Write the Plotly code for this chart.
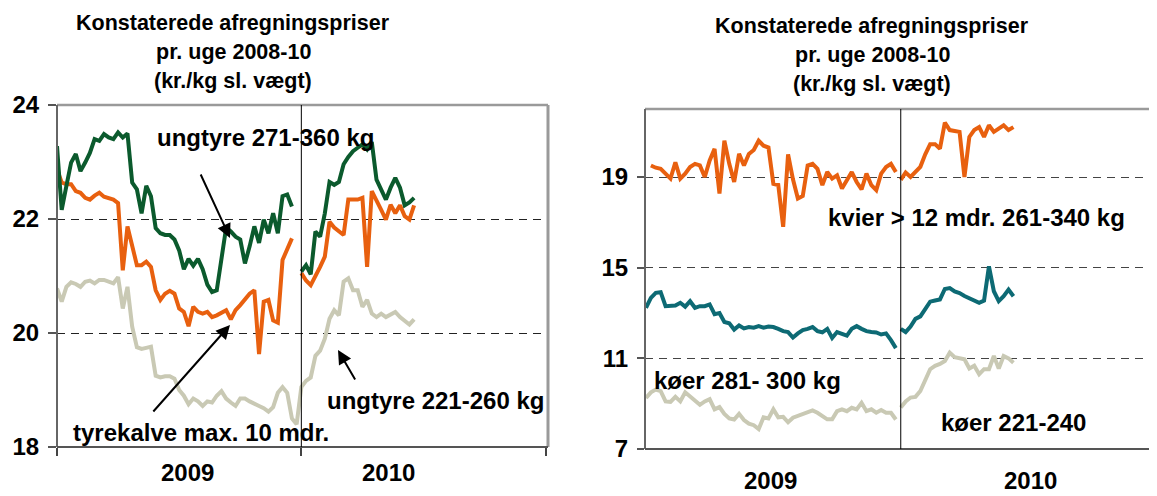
import plotly.graph_objects as go

# page is photographed with an 8px body margin, so the figure is drawn 8px smaller
OFF = 8
W, H = 1157 - OFF, 496 - OFF

# ---------------- data ----------------
weeks_2009 = list(range(0, 52))      # week index, 2009
weeks_2010 = list(range(52, 77))     # week index, 2010
year_labels = ["2009", "2010"]
title_lines = ["Konstaterede afregningspriser", "pr. uge 2008-10", "(kr./kg sl. vægt)"]

# left panel (kr./kg)
ungtyre_271_360_2009 = [23.28, 22.16, 22.58, 22.99, 23.14, 22.84, 22.99, 23.16, 23.4, 23.37,
                        23.49, 23.43, 23.4, 23.52, 23.43, 23.5, 22.64, 22.52, 22.1, 22.58,
                        22.4, 21.84, 21.75, 21.72, 21.72, 21.64, 21.45, 21.12, 21.3, 21.18,
                        21.3, 21.12, 20.85, 20.72, 20.75, 21.3, 21.85, 21.78, 21.69, 21.64,
                        21.22, 21.52, 21.87, 21.58, 21.99, 21.75, 22.1, 21.75, 22.4, 22.43, 22.22]
ungtyre_271_360_2010 = [21.08, 21.19, 21.03, 21.78, 21.69, 22.1, 22.65, 22.6, 22.65, 22.96,
                        23.09, 23.19, 23.25, 23.31, 23.22, 23.35, 22.69, 22.52, 22.34, 22.55,
                        22.72, 22.55, 22.24, 22.29, 22.37]
tyrekalve_2009 = [22.87, 22.64, 22.61, 22.61, 22.49, 22.46, 22.37, 22.34, 22.41, 22.46,
                  22.39, 22.37, 22.34, 22.28, 21.1, 21.87, 21.52, 21.19, 21.19, 21.25,
                  21.16, 20.75, 20.58, 20.69, 20.74, 20.69, 20.43, 20.37, 20.12, 20.46,
                  20.37, 20.34, 20.37, 20.28, 20.31, 20.35, 20.4, 20.24, 20.4, 20.49,
                  20.58, 20.69, 20.75, 19.63, 20.55, 20.58, 20.22, 20.18, 21.28, 21.49, 21.66]
tyrekalve_2010 = [21.05, 20.92, 20.84, 20.99, 21.16, 21.34, 21.95, 21.85, 21.78, 21.72,
                  22.34, 22.34, 22.34, 22.37, 21.16, 22.49, 22.34, 22.16, 21.99, 22.25,
                  22.1, 22.24, 22.05, 21.99, 22.24]
ungtyre_221_260_2009 = [20.78, 20.55, 20.81, 20.89, 20.86, 20.81, 20.9, 20.92, 20.87, 20.93,
                        20.93, 20.9, 20.87, 20.98, 20.43, 20.81, 20.11, 19.75, 19.72, 19.74,
                        19.76, 19.25, 19.22, 19.24, 19.24, 19.2, 19.0, 18.9, 18.75, 18.85,
                        18.8, 18.72, 18.8, 18.78, 18.9, 18.98, 18.85, 18.78, 18.72, 18.85,
                        18.85, 18.8, 18.75, 18.72, 18.68, 18.62, 18.7, 18.95, 19.05, 18.95,
                        18.5, 18.4]
ungtyre_221_260_2010 = [19.05, 19.16, 19.22, 19.6, 19.69, 19.9, 20.25, 20.4, 20.31, 20.9,
                        20.96, 20.75, 20.75, 20.46, 20.58, 20.34, 20.28, 20.34, 20.28, 20.33,
                        20.37, 20.28, 20.22, 20.15, 20.24]

# right panel (kr./kg)
kvier_2009 = [None, 19.51, 19.41, 19.36, 19.15, 18.93, 19.65, 18.93, 19.15, 19.44,
              19.58, 19.51, 19.0, 19.73, 20.24, 18.27, 20.6, 19.58, 18.78, 20.02,
              19.51, 20.02, 20.19, 20.6, 20.38, 20.3, 18.7, 18.65, 16.8, 20.0,
              18.9, 18.05, 18.16, 19.51, 19.58, 19.36, 18.64, 19.22, 18.93, 19.07,
              18.49, 18.85, 19.22, 18.78, 18.45, 19.15, 18.64, 18.42, 19.15, 19.44,
              19.58, 19.22]
kvier_2010 = [18.87, 19.2, 19.0, 19.25, 19.45, 20.0, 20.45, 20.45, 20.25, 21.4,
              21.07, 21.03, 20.99, 19.0, 20.77, 21.07, 21.2, 20.77, 21.28, 20.99,
              21.14, 21.28, 21.07, 21.2]
koeer_281_300_2009 = [13.23, 13.67, 13.89, 13.92, 13.3, 13.3, 13.33, 13.45, 13.28, 13.52,
                      13.23, 13.3, 13.3, 13.38, 12.95, 13.0, 12.6, 12.55, 12.27, 12.45,
                      12.32, 12.38, 12.35, 12.42, 12.35, 12.4, 12.38, 12.3, 12.2, 12.16,
                      11.92, 12.1, 12.25, 12.3, 12.38, 12.2, 12.15, 12.3, 11.9, 12.16,
                      12.1, 12.0, 12.3, 12.42, 12.3, 12.2, 12.16, 12.14, 12.05, 12.1,
                      11.8, 11.45]
koeer_281_300_2010 = [12.3, 12.16, 12.4, 12.74, 12.85, 13.2, 13.5, 13.55, 13.6, 14.06,
                      14.1, 13.95, 13.88, 13.75, 13.65, 13.55, 13.45, 13.55, 15.06, 13.96,
                      13.52, 13.74, 14.03, 13.74]
koeer_221_240_2009 = [9.25, 9.5, 9.62, 9.55, 9.1, 9.08, 9.3, 9.1, 9.5, 9.3,
                      9.15, 8.95, 9.1, 9.2, 8.75, 8.85, 8.55, 8.35, 8.3, 8.55,
                      8.28, 8.12, 8.05, 7.88, 8.4, 8.35, 8.75, 8.4, 8.42, 8.18,
                      8.38, 8.45, 8.53, 8.6, 8.7, 8.6, 8.45, 8.31, 8.31, 8.67,
                      8.75, 8.67, 8.82, 8.75, 9.04, 8.67, 8.75, 8.6, 8.72, 8.6,
                      8.6, 8.3]
koeer_221_240_2010 = [8.83, 9.1, 9.27, 9.3, 9.56, 10.08, 10.52, 10.67, 10.75, 10.88,
                      11.25, 11.05, 11.0, 10.96, 10.55, 10.67, 10.3, 10.52, 10.52, 11.1,
                      10.55, 11.1, 11.0, 10.81]

# ---------------- style ----------------
GREEN = "#0b5a2d"
ORANGE = "#e8600f"
BEIGE = "#c9c9b4"
TEAL = "#0d6a74"
FONT = "Liberation Sans, Arial, sans-serif"


def fx(x):   # page pixel -> paper x
    return (x - OFF) / W


def fy(y):   # page pixel -> paper y
    return 1 - (y - OFF) / H


fig = go.Figure()


def add_line(xs, ys, color, xa, ya):
    fig.add_trace(go.Scatter(x=xs[:len(ys)], y=ys, mode="lines",
                             line=dict(color=color, width=4, shape="linear"),
                             xaxis=xa, yaxis=ya, showlegend=False,
                             hoverinfo="skip", connectgaps=False))


# left panel
add_line(weeks_2009 + weeks_2010, ungtyre_221_260_2009 + ungtyre_221_260_2010, BEIGE, "x", "y")
add_line(weeks_2009, tyrekalve_2009, ORANGE, "x", "y")
add_line(weeks_2010, tyrekalve_2010, ORANGE, "x", "y")
add_line(weeks_2009, ungtyre_271_360_2009, GREEN, "x", "y")
add_line(weeks_2010, ungtyre_271_360_2010, GREEN, "x", "y")

# right panel
add_line(weeks_2009, koeer_221_240_2009, BEIGE, "x2", "y2")
add_line(weeks_2010, koeer_221_240_2010, BEIGE, "x2", "y2")
add_line(weeks_2009, koeer_281_300_2009, TEAL, "x2", "y2")
add_line(weeks_2010, koeer_281_300_2010, TEAL, "x2", "y2")
add_line(weeks_2009, kvier_2009, ORANGE, "x2", "y2")
add_line(weeks_2010, kvier_2010, ORANGE, "x2", "y2")

tickfont = dict(family=FONT, size=24, color="black", weight="bold")

fig.update_layout(
    width=W, height=H,
    margin=dict(l=0, r=0, t=0, b=0, pad=0, autoexpand=False),
    paper_bgcolor="white", plot_bgcolor="white",
    showlegend=False,
    xaxis=dict(domain=[fx(57), fx(548)], range=[0, 104.5], anchor="y",
               showgrid=False, zeroline=False, showline=False, automargin=False,
               tickvals=[weeks_2009[0], weeks_2010[0], 104], ticks="outside",
               ticklen=8, tickwidth=1.5, tickcolor="#444", showticklabels=False),
    yaxis=dict(domain=[fy(447), fy(105)], range=[18, 24], anchor="x",
               tickvals=[18, 20, 22, 24], ticks="outside", ticklen=8, tickwidth=1.5,
               tickcolor="#555", tickfont=tickfont, ticklabelstandoff=4, automargin=False,
               showgrid=True, gridcolor="#222", gridwidth=1, griddash="8px,6px",
               zeroline=False, showline=False),
    xaxis2=dict(domain=[fx(645), 1.0], range=[-0.2, 104.3], anchor="y2",
                showgrid=False, zeroline=False, showline=False, automargin=False,
                ticks="", showticklabels=False),
    yaxis2=dict(domain=[fy(449), fy(109)], range=[7, 22], anchor="x2",
                tickvals=[7, 11, 15, 19], ticks="outside", ticklen=7, tickwidth=1.5,
                tickcolor="#555", tickfont=tickfont, ticklabelstandoff=4, automargin=False,
                showgrid=True, gridcolor="#444", gridwidth=1, griddash="8px,6px",
                zeroline=False, showline=False),
)

shapes = []
# left frame
shapes += [
    dict(type="line", xref="x domain", yref="y domain", x0=0, x1=1, y0=1, y1=1,
         line=dict(color="#9a9a9a", width=2.5)),
    dict(type="line", xref="x domain", yref="y domain", x0=1, x1=1, y0=0, y1=1,
         line=dict(color="#9a9a9a", width=3)),
    dict(type="line", xref="x domain", yref="y domain", x0=0, x1=0, y0=0, y1=1,
         line=dict(color="#666", width=2)),
    dict(type="line", xref="x domain", yref="y domain", x0=0, x1=1, y0=0, y1=0,
         line=dict(color="#555", width=2)),
    dict(type="line", xref="x", yref="y domain", x0=weeks_2010[0], x1=weeks_2010[0], y0=0, y1=1,
         line=dict(color="black", width=1)),
]
# right frame
shapes += [
    dict(type="line", xref="x2 domain", yref="y2 domain", x0=0, x1=1, y0=1, y1=1,
         line=dict(color="#9a9a9a", width=2.5)),
    dict(type="line", xref="x2 domain", yref="y2 domain", x0=0, x1=0, y0=0, y1=1,
         line=dict(color="#666", width=2)),
    dict(type="line", xref="x2 domain", yref="y2 domain", x0=0, x1=1, y0=0, y1=0,
         line=dict(color="#555", width=2)),
    dict(type="line", xref="x2", yref="y2 domain", x0=weeks_2010[0], x1=weeks_2010[0], y0=0, y1=1,
         line=dict(color="black", width=1)),
]
fig.update_layout(shapes=shapes)

annotations = []


def text(t, x, y, size=24):
    annotations.append(dict(text=t, x=fx(x), y=fy(y), xref="paper", yref="paper",
                            xanchor="center", yanchor="middle", showarrow=False,
                            font=dict(family=FONT, size=size, color="black", weight="bold")))


def arrow(tip, tail):
    annotations.append(dict(text="", x=fx(tip[0]), y=fy(tip[1]), xref="paper", yref="paper",
                            ax=tail[0] - tip[0], ay=tail[1] - tip[1],
                            showarrow=True, arrowhead=2, arrowsize=1.4, arrowwidth=2,
                            arrowcolor="black", standoff=0, startstandoff=0))


# titles
for line, yl, yr in zip(title_lines, [23, 52, 81], [26, 55, 84]):
    text(line, 233, yl, 21.5)
    text(line, 872, yr, 21.5)

# year labels
text(year_labels[0], 187, 472)
text(year_labels[1], 388, 472)
text(year_labels[0], 770, 480)
text(year_labels[1], 1030, 480)

# series labels, left
text("ungtyre 271-360 kg", 265, 137)
text("tyrekalve max. 10 mdr.", 201, 432)
text("ungtyre 221-260 kg", 435, 400)
arrow((230, 238), (200, 173))
arrow((230, 325), (152, 413))
arrow((338, 350), (356, 381))

# series labels, right
text("kvier > 12 mdr. 261-340 kg", 976, 217)
text("køer 281- 300 kg", 747, 380)
text("køer 221-240", 1013, 422)

fig.update_layout(annotations=annotations)

fig.write_html("out.html")
